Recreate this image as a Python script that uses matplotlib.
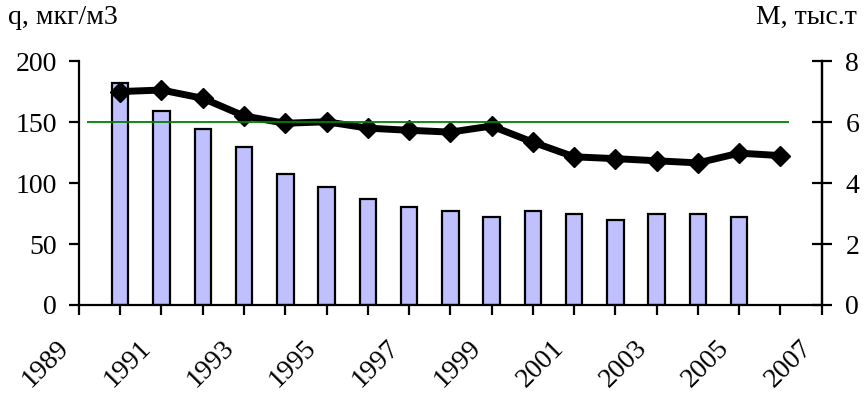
import matplotlib
matplotlib.use("Agg")
from matplotlib import pyplot as plt
from matplotlib.ticker import MultipleLocator, FixedLocator
from matplotlib.transforms import ScaledTranslation

plt.rcParams['font.family'] = ['Liberation Serif', 'DejaVu Serif']

# q, мкг/м3 (bars, left axis)
q_years = [1990, 1991, 1992, 1993, 1994, 1995, 1996, 1997,
           1998, 1999, 2000, 2001, 2002, 2003, 2004, 2005]
q_vals = [182, 159, 144, 129.5, 107, 97, 87, 80,
          77, 72.5, 77, 75, 70, 75, 75, 72.5]

# M, тыс.т (line, right axis)
m_years = [1990, 1991, 1992, 1993, 1994, 1995, 1996, 1997, 1998,
           1999, 2000, 2001, 2002, 2003, 2004, 2005, 2006]
m_vals = [7.0, 7.05, 6.78, 6.2, 5.96, 6.01, 5.8, 5.73, 5.67,
          5.87, 5.34, 4.86, 4.8, 4.73, 4.66, 4.98, 4.9]

# reference level (left axis units)
q_limit = 150

# x tick labels
year_ticks = list(range(1989, 2008, 2))

fig = plt.figure(figsize=(8.66, 3.94), dpi=100)
ax = fig.add_axes([0.0912, 0.2259, 0.8576, 0.6191])
ax2 = ax.twinx()

ax.bar(q_years, q_vals, width=0.4, color='#C0C0FF', edgecolor='black',
       linewidth=1.6, zorder=2)
ax2.plot(m_years, m_vals, color='black', linewidth=5, marker='D',
         markersize=10, zorder=3)
ax2.hlines(q_limit / 25.0, 1989.2, 2006.2, color='#008000', linewidth=1.3,
           zorder=4)

ax.set_xlim(1989, 2007)
ax.set_ylim(0, 200)
ax2.set_ylim(0, 8)

ax.xaxis.set_major_locator(FixedLocator(year_ticks))
ax.xaxis.set_minor_locator(MultipleLocator(1))
ax.yaxis.set_major_locator(MultipleLocator(50))
ax2.yaxis.set_major_locator(MultipleLocator(2))

for a in (ax, ax2):
    a.spines['top'].set_visible(False)
    for s in a.spines.values():
        s.set_linewidth(1.6)
ax2.spines['left'].set_visible(False)
ax2.spines['bottom'].set_visible(False)

fs = 20
ax.tick_params(axis='y', direction='out', length=7, width=1.6, pad=9,
               labelsize=fs)
ax.tick_params(axis='x', which='both', direction='out', length=7, width=1.6,
               pad=15, labelsize=fs)
ax2.tick_params(axis='y', direction='inout', length=14, width=1.6, pad=10,
                labelsize=fs)

offset = ScaledTranslation(-0.05, 0, fig.dpi_scale_trans)
for lbl in ax.get_xticklabels():
    lbl.set_rotation(45)
    lbl.set_ha('right')
    lbl.set_va('top')
    lbl.set_transform(lbl.get_transform() + offset)

fig.text(0.009, 0.955, 'q, мкг/м3', fontsize=fs, va='center', ha='left')
fig.text(0.873, 0.955, 'M, тыс.т', fontsize=fs, va='center', ha='left')

fig.savefig('out.png', dpi=100)
